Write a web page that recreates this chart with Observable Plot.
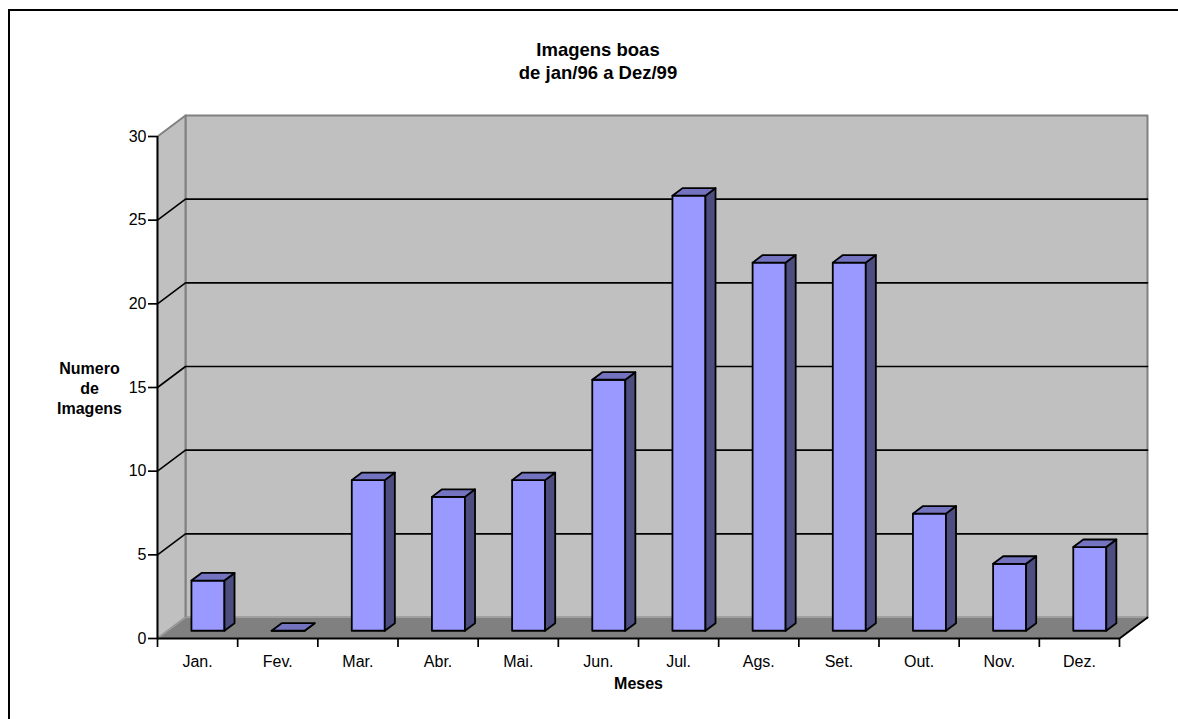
<!DOCTYPE html>
<html>
<head>
<meta charset="utf-8">
<script src="https://cdn.jsdelivr.net/npm/d3@7"></script>
<script src="https://cdn.jsdelivr.net/npm/@observablehq/plot@0.6"></script>
<style>
  html, body { margin: 0; padding: 0; background: #fff; width: 1178px; height: 719px; overflow: hidden; }
  body { position: relative; font-family: 'Liberation Sans', Arial, sans-serif; }
  #topline { position: absolute; left: 8px; top: 9px; width: 1170px; height: 2px; background: #000; }
  #leftline { position: absolute; left: 8px; top: 9px; width: 2px; height: 710px; background: #000; }
  #title { position: absolute; left: 298px; top: 38px; width: 600px; text-align: center; font-weight: bold; font-size: 18.5px; line-height: 23px; color: #000; }
  #chart { position: absolute; left: 0; top: 100px; }
</style>
</head>
<body>
<div id="topline"></div>
<div id="leftline"></div>
<div id="title">Imagens boas<br>de jan/96 a Dez/99</div>
<div id="chart"></div>
<script>
const months = ["Jan.", "Fev.", "Mar.", "Abr.", "Mai.", "Jun.", "Jul.", "Ags.", "Set.", "Out.", "Nov.", "Dez."];
const values = [3, 0, 9, 8, 9, 15, 26, 22, 22, 7, 4, 5];
const yTicks = [0, 5, 10, 15, 20, 25, 30];
const gridValues = [5, 10, 15, 20, 25];
const yMax = 30;

// layout
const W = 1178, H = 619;
const mL = 157, mR = 59, mT = 36, mB = 81;
const n = months.length;
const pxPerCat = (W - mL - mR) / n;
const pxPerUnit = (H - mT - mB) / yMax;
// 3D depth offsets (pixels) converted to data units
const DX = 28 / pxPerCat;
const DY = 21 / pxPerUnit;
const f1 = 0.37, f2 = 0.73;   // bar front / back depth fractions
const hw = 16.5 / pxPerCat;   // bar half width

const P = (x, y, f) => ({x: x + f * DX, y: y + f * DY});

const backWall = [P(0, 0, 1), P(n, 0, 1), P(n, yMax, 1), P(0, yMax, 1)].map(p => ({...p, k: "b"}));
const leftWall = [P(0, 0, 0), P(0, 0, 1), P(0, yMax, 1), P(0, yMax, 0)].map(p => ({...p, k: "l"}));
const floor = [P(0, 0, 0), P(n, 0, 0), P(n, 0, 1), P(0, 0, 1)].map(p => ({...p, k: "f"}));
const floorRight = [P(n, 0, 0), P(n, 0, 1)];
const grid = gridValues.flatMap(v => [P(0, v, 0), P(0, v, 1), P(n, v, 1)].map(p => ({...p, k: v})));

const fronts = [], tops = [], sides = [];
values.forEach((v, i) => {
  const x1 = i + 0.5 - hw, x2 = i + 0.5 + hw;
  [P(x1, 0, f1), P(x2, 0, f1), P(x2, v, f1), P(x1, v, f1)].forEach(p => fronts.push({...p, k: i}));
  [P(x1, v, f1), P(x2, v, f1), P(x2, v, f2), P(x1, v, f2)].forEach(p => tops.push({...p, k: i}));
  [P(x2, 0, f1), P(x2, 0, f2), P(x2, v, f2), P(x2, v, f1)].forEach(p => sides.push({...p, k: i}));
});

const barStyle = {x: "x", y: "y", z: "k", stroke: "#000", strokeWidth: 1.8, strokeLinejoin: "round", curve: "linear-closed"};

const chart = Plot.plot({
  width: W, height: H,
  marginLeft: mL, marginRight: mR, marginTop: mT, marginBottom: mB,
  x: {domain: [0, n]},
  y: {domain: [0, yMax]},
  style: {fontFamily: "'Liberation Sans', Arial, sans-serif", fontSize: "16px", background: "transparent", overflow: "visible", color: "#000"},
  marks: [
    Plot.line(backWall, {x: "x", y: "y", z: "k", fill: "#C0C0C0", stroke: "#808080", strokeWidth: 2, curve: "linear-closed"}),
    Plot.line(leftWall, {x: "x", y: "y", z: "k", fill: "#C0C0C0", stroke: "#808080", strokeWidth: 2, curve: "linear-closed"}),
    Plot.line(grid, {x: "x", y: "y", z: "k", stroke: "#000", strokeWidth: 1.6}),
    Plot.line(floor, {x: "x", y: "y", z: "k", fill: "#808080", stroke: "#a0a0a0", strokeWidth: 1.2, curve: "linear-closed"}),
    Plot.line(floorRight, {x: "x", y: "y", stroke: "#000", strokeWidth: 1.8}),
    Plot.ruleY([0], {x1: 0, x2: n, stroke: "#000", strokeWidth: 1.8}),
    Plot.ruleX([0], {y1: 0, y2: yMax, stroke: "#000", strokeWidth: 1.8}),
    Plot.line(fronts, {...barStyle, fill: "#9999FF"}),
    Plot.line(sides, {...barStyle, fill: "#4D4D80"}),
    Plot.line(tops, {...barStyle, fill: "#7373BF"}),
    Plot.axisY(yTicks, {tickSize: 9, tickPadding: 2, fontSize: 16, strokeWidth: 1.7, label: null}),
    Plot.axisX(d3.range(n + 1), {tickSize: 9, tickFormat: () => "", strokeWidth: 1.7, label: null}),
    Plot.axisX(d3.range(n).map(i => i + 0.5), {tickSize: 0, tickPadding: 17, fontSize: 16, tickFormat: d => months[Math.floor(d)], label: null}),
    Plot.text(["Meses"], {x: n / 2, y: 0, dy: 45, text: d => d, fontWeight: "bold", fontSize: 16, textAnchor: "middle"}),
    Plot.text(["Numero\nde\nImagens"], {x: 0, y: 15, dx: -68, text: d => d, fontWeight: "bold", fontSize: 16, textAnchor: "middle", lineHeight: 1.25})
  ]
});
document.getElementById("chart").appendChild(chart);
</script>
</body>
</html>
